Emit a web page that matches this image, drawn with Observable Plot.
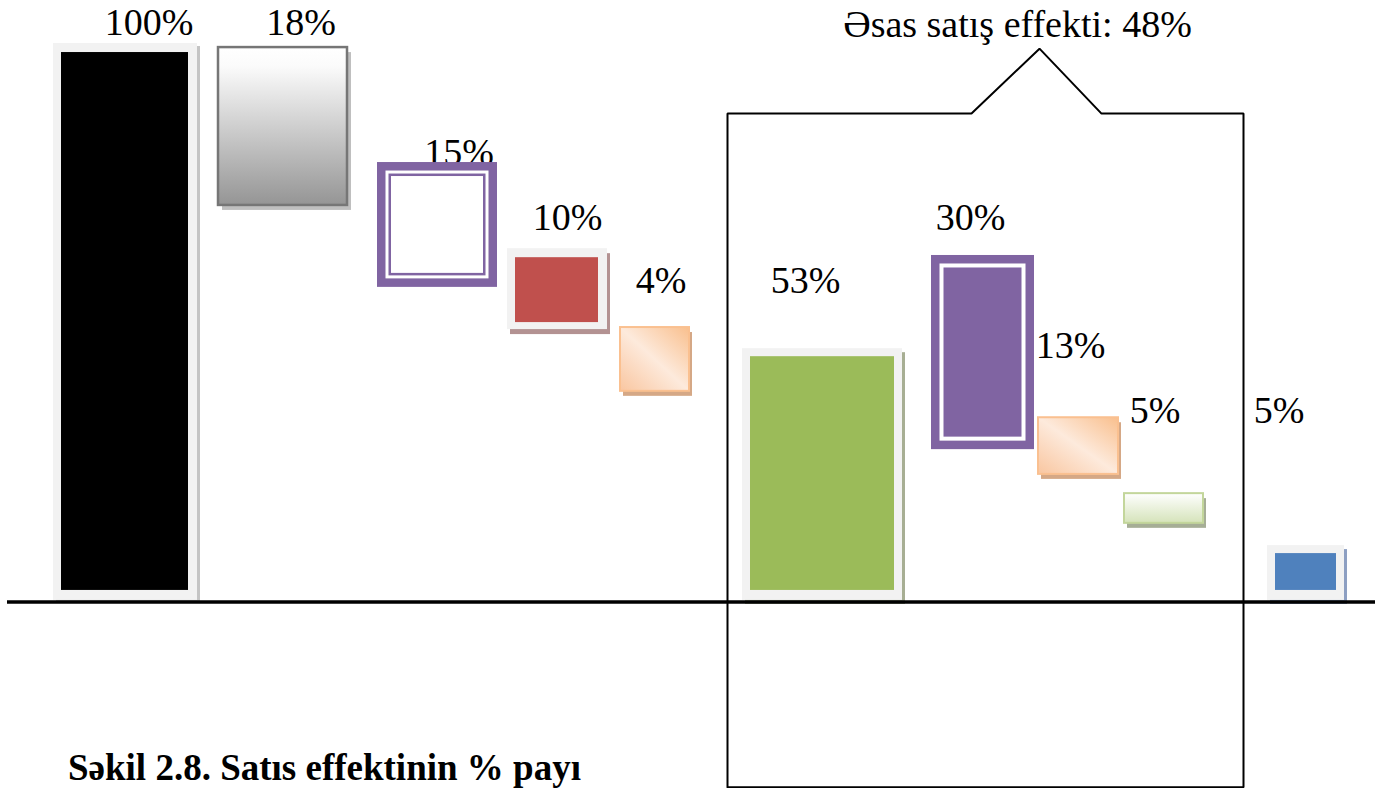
<!DOCTYPE html>
<html><head><meta charset="utf-8">
<script src="https://cdn.jsdelivr.net/npm/d3@7"></script>
<script src="https://cdn.jsdelivr.net/npm/@observablehq/plot@0.6"></script>
<style>
html,body{margin:0;padding:0;background:#fff;overflow:hidden;}
#wrap{position:relative;width:1383px;height:788px;}
#caption{position:absolute;left:68px;top:749px;font-family:'Liberation Serif','Times New Roman','DejaVu Serif',serif;font-weight:bold;font-size:37px;line-height:37px;white-space:nowrap;color:#000;}
</style></head><body>
<div id="wrap"><div id="chart"></div><div id="caption">Səkil 2.8. Satıs effektinin % payı</div></div>
<script>
// ---- data ----
const labels     = ["100%", "18%", "15%", "10%", "4%", "53%", "30%", "13%", "5%", "5%"];
const values     = [100, 18, 15, 10, 4, 53, 30, 13, 5, 5];
// vertical extent of each drawn box, in level units (baseline = 0, first bar top ≈ 100)
const barTop     = [99.9, 100.8, 79.9, 62.6, 49.9, 44.6, 63.0, 33.5, 19.7, 8.8];
const barBottom  = [2.1, 72.1, 57.2, 50.8, 38.3, 2.1, 27.7, 23.2, 14.3, 2.1];
// horizontal slot of each box along the page
const slotFrom   = [61, 218, 377, 515, 620, 750, 931, 1038, 1124, 1275];
const slotTo     = [188, 347, 497, 598, 689, 894, 1034, 1118, 1203, 1336];
// label anchors (centre and baseline level)
const labelAt    = [148.5, 300.5, 458.5, 567, 660.5, 805, 970, 1070, 1154.5, 1278.5];
const labelLevel = [103.0, 103.0, 79.4, 67.7, 56.1, 56.1, 67.7, 44.3, 32.6, 32.6];
// group bracket ("main sales effect")
const groupTitle = "Əsas satış effekti: 48%";
const groupTitleAt = [1017, 102.8];
const bracketX   = [727, 727, 971, 1039, 1101, 1243, 1243, 727];
const bracketY   = [-33.7, 88.8, 88.8, 100.6, 88.8, 88.8, -33.7, -33.7];
const baselineSpan = [7, 1375];

// ---- styles (separate from data) ----
const FONT = "'Liberation Serif', 'Times New Roman', 'DejaVu Serif', serif";
const looks = [
  {frame:"#f2f2f2", pad:[8,9,9,10], shadow:"#c4c4c4", sdx:3, sdy:3, layers:[{fill:"#000000"}]},
  {shadow:"#bfbfbf", sdx:4, sdy:5, layers:[{fill:"url(#gGray)", stroke:"#767676", strokeWidth:2.5}]},
  {layers:[{fill:"#8064a2"},{fill:"#ffffff",inset:8.5},{fill:"#8064a2",inset:11.5},{fill:"#ffffff",inset:14}]},
  {frame:"#f2f2f2", pad:[8,9,9,7], shadow:"#b39292", sdx:3, sdy:5, layers:[{fill:"#c0504d"}]},
  {shadow:"#d5a886", sdx:3, sdy:5, layers:[{fill:"url(#gPeach)", stroke:"#fac090", strokeWidth:2}]},
  {frame:"#f2f2f2", pad:[8,8,8,10], shadow:"#a7ae93", sdx:3, sdy:4, layers:[{fill:"#9bbb59"}]},
  {layers:[{fill:"#8064a2"},{fill:"#ffffff",inset:8.5},{fill:"#8064a2",inset:12.5}]},
  {shadow:"#d5a886", sdx:3, sdy:5, layers:[{fill:"url(#gPeach)", stroke:"#fac090", strokeWidth:2}]},
  {shadow:"#a6ae96", sdx:3, sdy:5, layers:[{fill:"url(#gGreen)", stroke:"#c3d69b", strokeWidth:2}]},
  {frame:"#f2f2f2", pad:[8,8,8,10], shadow:"#8d9fc2", sdx:3, sdy:4, layers:[{fill:"#4f81bd"}]}
];

const bars = labels.map((label, i) => ({
  i, label, value: values[i],
  x1: slotFrom[i], x2: slotTo[i], y1: barBottom[i], y2: barTop[i],
  lx: labelAt[i], ly: labelLevel[i]
}));
const bracket = bracketX.map((x, k) => ({x, y: bracketY[k]}));

const marks = [];
// labels (drawn first: the 15% label sits partly under its box)
marks.push(Plot.text(bars, {x:"lx", y:"ly", text:"label", lineAnchor:"bottom", textAnchor:"middle",
  fontSize:38, fontFamily:FONT, fill:"#000"}));
marks.push(Plot.text([groupTitle], {x:() => groupTitleAt[0], y:() => groupTitleAt[1], text:d => d,
  lineAnchor:"bottom", textAnchor:"middle", fontSize:38, fontFamily:FONT, fill:"#000"}));
marks.push(Plot.line(bracket, {x:"x", y:"y", stroke:"#000", strokeWidth:2, strokeLinejoin:"miter"}));

bars.forEach((b, i) => {
  const L = looks[i], d = [b];
  const pad = L.pad || [0,0,0,0];
  const box = {x1:"x1", x2:"x2", y1:"y1", y2:"y2"};
  const outer = {insetLeft:-pad[0], insetRight:-pad[1], insetTop:-pad[2], insetBottom:-pad[3]};
  if (L.shadow) marks.push(Plot.rect(d, {...box, ...outer, fill:L.shadow, dx:L.sdx, dy:L.sdy}));
  if (L.frame) marks.push(Plot.rect(d, {...box, ...outer, fill:L.frame}));
  L.layers.forEach(ly => {
    const ins = ly.inset || 0;
    marks.push(Plot.rect(d, {...box, inset:ins, fill:ly.fill,
      stroke: ly.stroke || "none", strokeWidth: ly.strokeWidth || 0}));
  });
});

marks.push(Plot.ruleY([0], {x1:baselineSpan[0], x2:baselineSpan[1], stroke:"#000", strokeWidth:3.5}));

const chart = Plot.plot({
  width:1383, height:788,
  marginTop:0, marginBottom:0, marginLeft:0, marginRight:0,
  x:{domain:[0,1383], range:[0,1383], axis:null},
  y:{domain:[-33.91,109.36], axis:null},
  style:{background:"#fff", overflow:"visible", fontFamily:FONT},
  marks
});

const defs = d3.select(chart).insert("defs", ":first-child");
const g1 = defs.append("linearGradient").attr("id","gGray").attr("x1",0).attr("y1",0).attr("x2",0).attr("y2",1);
g1.append("stop").attr("offset","0").attr("stop-color","#ffffff");
g1.append("stop").attr("offset","0.12").attr("stop-color","#fbfbfb");
g1.append("stop").attr("offset","1").attr("stop-color","#959595");
const g2 = defs.append("linearGradient").attr("id","gPeach").attr("x1",1).attr("y1",0).attr("x2",0).attr("y2",1);
g2.append("stop").attr("offset","0").attr("stop-color","#f9bf8d");
g2.append("stop").attr("offset","0.5").attr("stop-color","#fdeadc");
g2.append("stop").attr("offset","1").attr("stop-color","#f9c6a0");
const g3 = defs.append("linearGradient").attr("id","gGreen").attr("x1",0).attr("y1",0).attr("x2",0).attr("y2",1);
g3.append("stop").attr("offset","0").attr("stop-color","#ffffff");
g3.append("stop").attr("offset","1").attr("stop-color","#d5e3ba");

document.getElementById("chart").appendChild(chart);
</script>
</body></html>
